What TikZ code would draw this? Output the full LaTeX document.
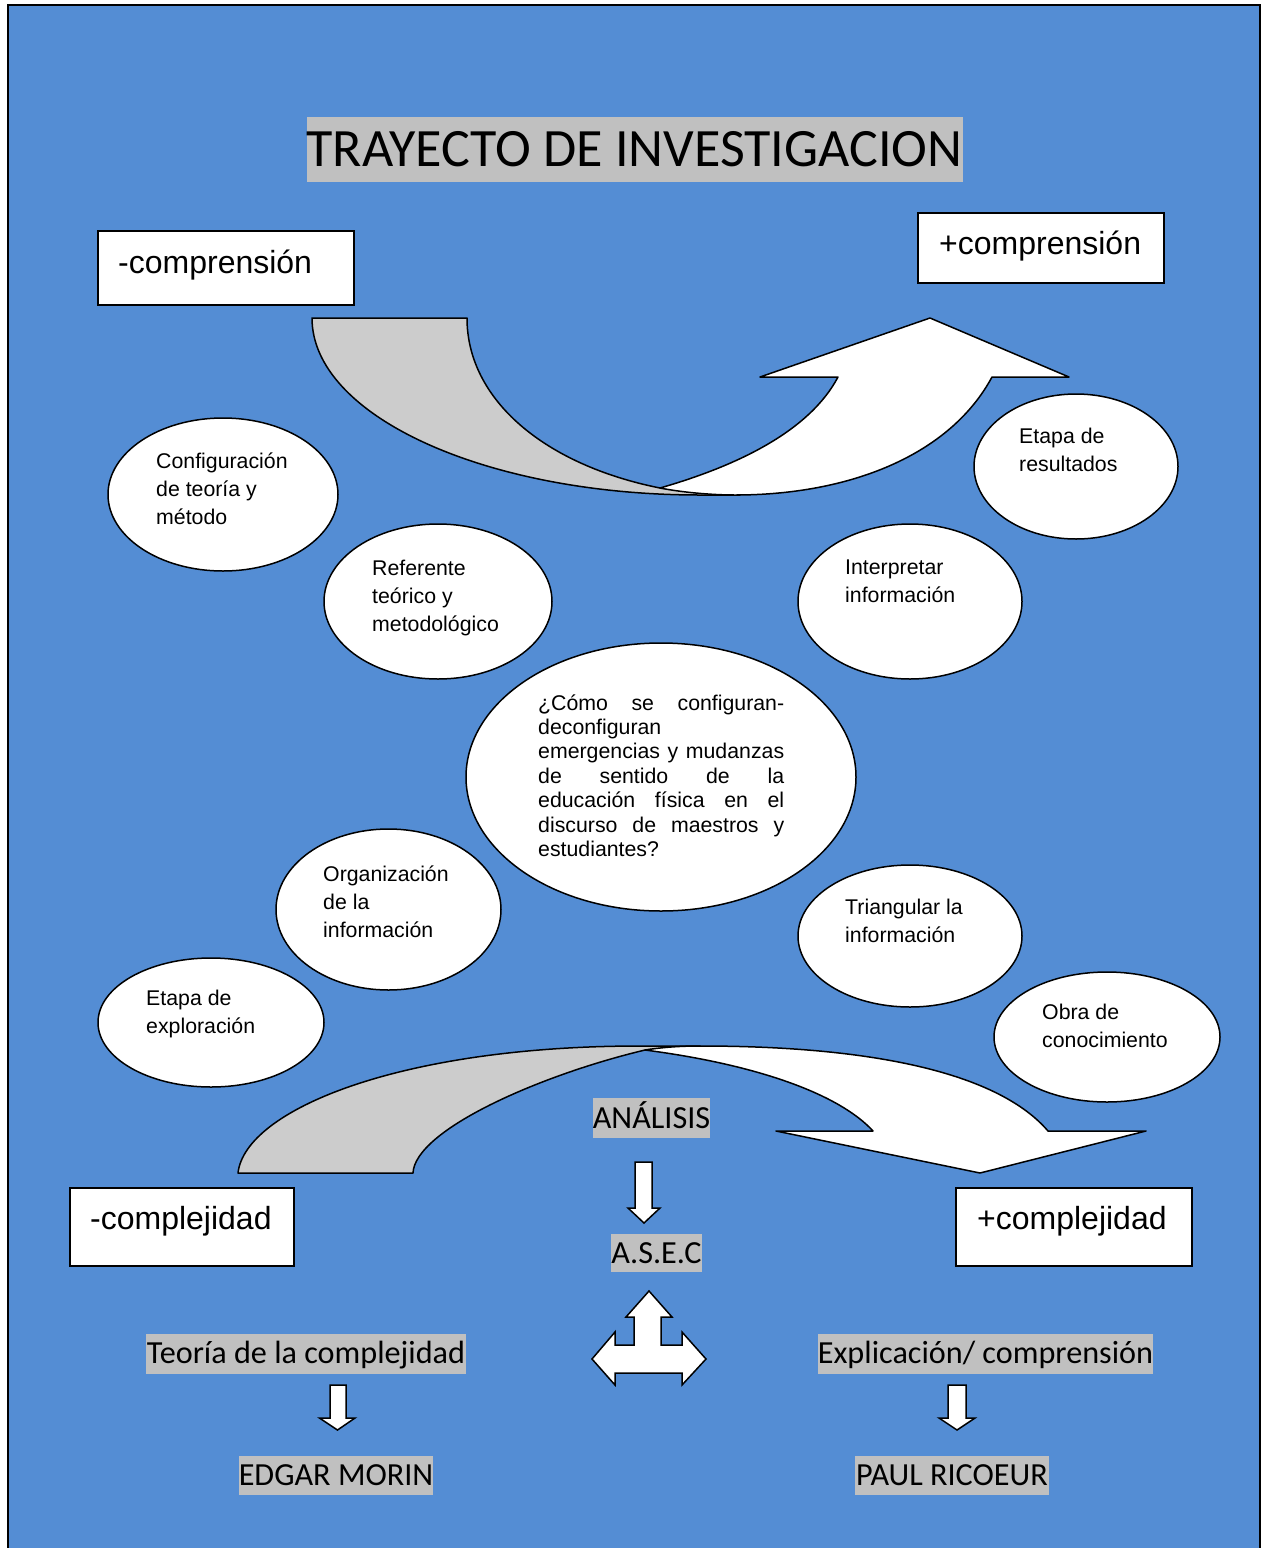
\documentclass[tikz,border=0pt]{standalone}
\usepackage{fontspec}
\setmainfont{Liberation Sans}
\newfontfamily\calib{Carlito}
\usetikzlibrary{shapes.geometric}
\definecolor{pageblue}{RGB}{84,141,212}
\definecolor{hlgray}{RGB}{192,192,192}
\definecolor{bandgray}{RGB}{204,204,204}

\begin{document}
\begin{tikzpicture}[x=1pt,y=-1pt,
  box/.style={draw=black, line width=2pt, fill=white, inner sep=0},
  btext/.style={anchor=base west, inner sep=0, font=\fontsize{32}{38}\selectfont},
  blob/.style={ellipse, draw=black, line width=1.5pt, fill=white, inner sep=0},
  etext/.style={anchor=base west, inner sep=0, font=\fontsize{21.3}{28.3}\selectfont},
  hl/.style={fill=hlgray, inner sep=0, text depth=0pt, text height=20.3pt,
    font=\calib\fontsize{32.2}{38}\selectfont},
  band/.style={draw=black, line width=1.5pt, line join=round},
  blockarrow/.style={draw=black, line width=1.5pt, fill=white, line join=miter}]

\useasboundingbox (0,0) rectangle (1261,1548);
% page background and frame
\fill[white] (0,0) rectangle (1261,1548);
\fill[pageblue] (8,5) rectangle (1260,1548);
\draw[line width=2.5pt] (8,1548) -- (8,5) -- (1260,5) -- (1260,1548);

% title
\node[hl, font=\calib\fontsize{54}{60}\selectfont, text height=34pt,
  minimum width=656pt, minimum height=65pt] (title) at (634.5,149.5)
  {TRAYECTO DE INVESTIGACION};

% corner boxes
\node[box, minimum width=256pt, minimum height=74pt] (bminus) at (226,268) {};
\node[btext] (tminus) at (118,273) {-comprensión};
\node[box, minimum width=246pt, minimum height=70pt] (bplus) at (1041,248) {};
\node[btext] (tplus) at (939,254) {+comprensión};
\node[box, minimum width=224pt, minimum height=78pt] (bcminus) at (182,1227) {};
\node[btext] (tcminus) at (90,1229) {-complejidad};
\node[box, minimum width=236pt, minimum height=78pt] (bcplus) at (1074,1227) {};
\node[btext] (tcplus) at (977,1229) {+complejidad};

% upper curved arrow: grey back band, white front with head
\draw[band, fill=bandgray] (312,318) -- (467,318)
  .. controls (467,400) and (545,465) .. (660,488) -- (740,495) -- (700,495)
  .. controls (486,495) and (312,416) .. (312,318) -- cycle;
\draw[band, fill=white] (660,488)
  .. controls (740,465) and (810,430) .. (838,377)
  -- (760,377) -- (930,318) -- (1069,377) -- (992,377)
  .. controls (950,455) and (850,495) .. (735,495)
  .. controls (710,495) and (680,492) .. (660,488) -- cycle;

% lower curved arrow
\draw[band, fill=bandgray] (238,1173) -- (413,1173)
  .. controls (415,1130) and (540,1075) .. (645,1050) -- (700,1046) -- (640,1046)
  .. controls (400,1046) and (245,1110) .. (238,1173) -- cycle;
\draw[band, fill=white] (645,1050)
  .. controls (760,1065) and (840,1095) .. (873,1131)
  -- (776,1131) -- (980,1173) -- (1146,1131) -- (1048,1131)
  .. controls (1000,1075) and (880,1046) .. (700,1046)
  .. controls (675,1046) and (658,1048) .. (645,1050) -- cycle;

% stages
\node[blob, minimum width=230pt, minimum height=153pt] (e1) at (223,494.5) {};
\node[etext] (t1) at (156,468) {\begin{tabular}[t]{@{}l@{}}Configuración\\de teoría y\\método\end{tabular}};

\node[blob, minimum width=228pt, minimum height=155pt] (e2) at (438,601.5) {};
\node[etext] (t2) at (372,575) {\begin{tabular}[t]{@{}l@{}}Referente\\teórico y\\metodológico\end{tabular}};

\node[blob, minimum width=204pt, minimum height=145pt] (e3) at (1076,466.5) {};
\node[etext] (t3) at (1019,443) {\begin{tabular}[t]{@{}l@{}}Etapa de\\resultados\end{tabular}};

\node[blob, minimum width=224pt, minimum height=155pt] (e4) at (910,601.5) {};
\node[etext] (t4) at (845,574) {\begin{tabular}[t]{@{}l@{}}Interpretar\\información\end{tabular}};

\node[blob, minimum width=390pt, minimum height=268pt] (e5) at (661,777) {};
\node[anchor=base west, inner sep=0, font=\fontsize{21.3}{24.4}\selectfont] (t5) at (538,710)
  {\begin{tabular}[t]{@{}l@{}}
  \makebox[246pt][s]{¿Cómo se configuran-}\\
  deconfiguran\\
  \makebox[246pt][s]{emergencias y mudanzas}\\
  \makebox[246pt][s]{de sentido de la}\\
  \makebox[246pt][s]{educación física en el}\\
  \makebox[246pt][s]{discurso de maestros y}\\
  estudiantes?
  \end{tabular}};

\node[blob, minimum width=225pt, minimum height=161pt] (e6) at (388.5,909.5) {};
\node[etext] (t6) at (323,881) {\begin{tabular}[t]{@{}l@{}}Organización\\de la\\información\end{tabular}};

\node[blob, minimum width=224pt, minimum height=142pt] (e7) at (910,936) {};
\node[etext] (t7) at (845,914) {\begin{tabular}[t]{@{}l@{}}Triangular la\\información\end{tabular}};

\node[blob, minimum width=226pt, minimum height=129pt] (e8) at (211,1022.5) {};
\node[etext] (t8) at (146,1005) {\begin{tabular}[t]{@{}l@{}}Etapa de\\exploración\end{tabular}};

\node[blob, minimum width=226pt, minimum height=130pt] (e9) at (1107,1037) {};
\node[etext] (t9) at (1042,1019) {\begin{tabular}[t]{@{}l@{}}Obra de\\conocimiento\end{tabular}};

% highlighted labels
\node[hl, minimum width=117pt, minimum height=40pt] (analisis) at (651.5,1118) {ANÁLISIS};
\node[hl, minimum width=91pt, minimum height=38pt] (asec) at (656.5,1253) {A.S.E.C};
\node[hl, minimum width=320pt, minimum height=40pt] (teoria) at (306,1353.5) {Teoría de la complejidad};
\node[hl, minimum width=194pt, minimum height=39pt] (morin) at (336,1475) {EDGAR MORIN};
\node[hl, minimum width=335pt, minimum height=40pt] (explic) at (985.5,1353.5) {Explicación/ comprensión};
\node[hl, minimum width=194pt, minimum height=39pt] (ricoeur) at (952,1475) {PAUL RICOEUR};

% block arrows
\draw[blockarrow] (635,1162) -- (652,1162) -- (652,1208) -- (660,1208) -- (644,1223)
  -- (628,1208) -- (635,1208) -- cycle;
\draw[blockarrow] (592,1359) -- (615,1332) -- (615,1345) -- (634,1345) -- (634,1317)
  -- (626,1317) -- (649,1291) -- (672,1317) -- (661,1317) -- (661,1345) -- (682,1345)
  -- (682,1332) -- (706,1359) -- (682,1385) -- (682,1373) -- (615,1373) -- (615,1385) -- cycle;
\draw[blockarrow] (330,1385) -- (346,1385) -- (346,1418) -- (355,1418) -- (337.5,1430)
  -- (319.5,1418) -- (330,1418) -- cycle;
\draw[blockarrow] (948,1385) -- (966,1385) -- (966,1418) -- (975,1418) -- (957,1430)
  -- (939,1418) -- (948,1418) -- cycle;
\end{tikzpicture}
\end{document}
